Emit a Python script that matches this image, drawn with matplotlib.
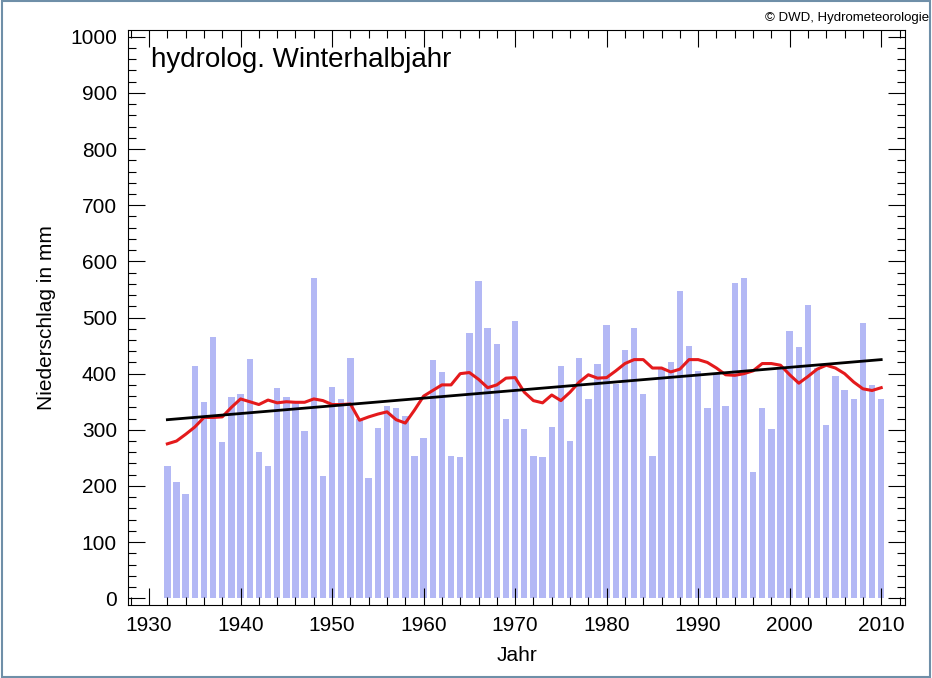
import numpy as np
import matplotlib.pyplot as plt
from matplotlib.ticker import MultipleLocator
from matplotlib.patches import Rectangle

plt.rcParams["font.family"] = ["Liberation Sans", "DejaVu Sans"]

years = np.arange(1932, 2011)
precip = [235, 207, 185, 413, 350, 465, 278, 358, 363, 426,
          260, 235, 375, 358, 350, 298, 570, 218, 377, 355,
          427, 320, 214, 303, 343, 338, 325, 253, 285, 425,
          403, 253, 251, 472, 565, 481, 453, 320, 494, 302,
          253, 251, 305, 413, 280, 428, 355, 418, 486, 382,
          443, 481, 363, 253, 410, 420, 548, 450, 405, 338,
          400, 342, 562, 570, 224, 338, 302, 412, 476, 448,
          522, 410, 308, 396, 370, 355, 490, 380, 355]
smooth = [275, 280, 292, 305, 322, 322, 323, 340, 355, 350,
          345, 353, 348, 350, 349, 349, 355, 352, 345, 345,
          346, 317, 323, 328, 332, 318, 312, 335, 360, 370,
          380, 380, 400, 402, 390, 375, 380, 392, 393, 367,
          352, 348, 362, 352, 367, 385, 398, 392, 393, 405,
          418, 425, 425, 410, 410, 403, 408, 425, 425, 420,
          410, 398, 397, 400, 405, 418, 418, 415, 398, 383,
          395, 408, 415, 410, 400, 385, 373, 370, 375]
trend_years = [1932, 2010]
trend_vals = [318, 425]

fig = plt.figure(figsize=(9.32, 6.78), dpi=100)
ax = fig.add_axes([128 / 932, 1 - 605 / 678, 777 / 932, 575 / 678])

ax.bar(years, precip, width=0.7, color="#b3b8f5", zorder=1)
ax.plot(years, smooth, color="#e41a1c", linewidth=2.2, zorder=3)
ax.plot(trend_years, trend_vals, color="black", linewidth=2.0, zorder=4)

ax.set_xlim(1927.7, 2012.6)
ax.set_ylim(-12, 1012)
ax.xaxis.set_major_locator(MultipleLocator(10))
ax.xaxis.set_minor_locator(MultipleLocator(2))
ax.yaxis.set_major_locator(MultipleLocator(100))
ax.yaxis.set_minor_locator(MultipleLocator(20))
ax.tick_params(which="both", direction="in", top=True, right=True, labelsize=15)
ax.tick_params(which="major", length=12, width=0.8, pad=8)
ax.tick_params(which="minor", length=6, width=0.8)
ax.set_xlabel("Jahr", fontsize=15, labelpad=8)
ax.set_ylabel("Niederschlag in mm", fontsize=15, labelpad=10)
ax.text(0.03, 0.97, "hydrolog. Winterhalbjahr", transform=ax.transAxes,
        fontsize=20, va="top", ha="left")

fig.text(0.997, 1 - 18 / 678, "© DWD, Hydrometeorologie", fontsize=9.5,
         va="center", ha="right")
fig.patches.append(Rectangle((0.002, 0.002), 0.996, 0.996, transform=fig.transFigure,
                             fill=False, edgecolor="#6f8fa8", linewidth=1.5))

fig.savefig("out.png", dpi=100)
